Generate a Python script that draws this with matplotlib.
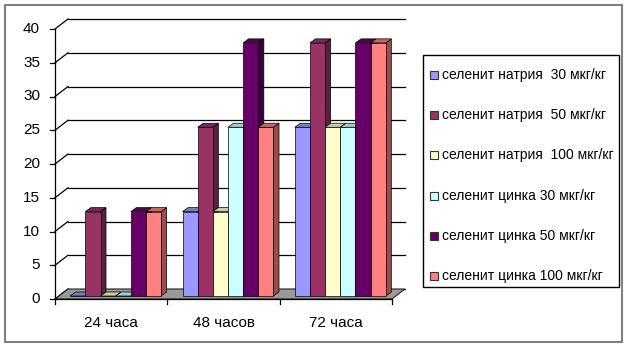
import matplotlib.pyplot as plt
from matplotlib.patches import Polygon, Rectangle
from matplotlib.colors import to_rgb

plt.rcParams['font.family'] = ['Liberation Sans', 'DejaVu Sans']

categories = ["24 часа", "48 часов", "72 часа"]
series = [
    "селенит натрия  30 мкг/кг",
    "селенит натрия  50 мкг/кг",
    "селенит натрия  100 мкг/кг",
    "селенит цинка 30 мкг/кг",
    "селенит цинка 50 мкг/кг",
    "селенит цинка 100 мкг/кг",
]
values = [
    [0, 12.5, 25],      # натрий 30
    [12.5, 25, 37.5],   # натрий 50
    [0, 12.5, 25],      # натрий 100
    [0, 25, 25],        # цинк 30
    [12.5, 37.5, 37.5], # цинк 50
    [12.5, 25, 37.5],   # цинк 100
]
colors = ["#9999FF", "#993366", "#FFFFCC", "#CCFFFF", "#660066", "#FF8080"]
y_ticks = [0, 5, 10, 15, 20, 25, 30, 35, 40]

W, H = 628, 348
fig = plt.figure(figsize=(W / 100, H / 100), dpi=100)

# front plane of the plot in pixels
x0_px, x1_px, y0_px, y1_px = 55, 392, 299, 29
ax = fig.add_axes([x0_px / W, (H - y0_px) / H, (x1_px - x0_px) / W, (y0_px - y1_px) / H])
ax.set_xlim(0, 3)
ax.set_ylim(0, 40)
ax.axis("off")

ux = 3 / (x1_px - x0_px)   # data units per pixel
uy = 40 / (y0_px - y1_px)


def shade(c, f):
    r, g, b = to_rgb(c)
    return (r * f, g * f, b * f)


# wall depth, bar offset and bar depth (pixels)
wdx, wdy = 13 * ux, 10 * uy
odx, ody = 4.5 * ux, 3 * uy
bdx, bdy = 5.5 * ux, 4 * uy

# floor
ax.add_patch(Polygon([(0, 0), (3, 0), (3 + wdx, wdy), (wdx, wdy)], closed=True,
                     facecolor="#999999", edgecolor="black", lw=0.6, zorder=1, clip_on=False))

# gridlines on the back and left walls
for v in y_ticks:
    ax.plot([wdx, 3 + wdx], [v + wdy, v + wdy], color="black", lw=0.9, zorder=0.5, clip_on=False)
    ax.plot([0, wdx], [v, v + wdy], color="black", lw=0.9, zorder=0.5, clip_on=False)
    ax.plot([-5 * ux, 0], [v, v], color="black", lw=0.9, clip_on=False)
    ax.text(-15 * ux, v, str(v), ha="right", va="center", fontsize=11, clip_on=False)

# axes lines
ax.plot([0, 0], [0, 40], color="black", lw=0.9, zorder=0.6, clip_on=False)
ax.plot([0, 3], [0, 0], color="black", lw=0.9, zorder=1.5, clip_on=False)
for i in range(4):
    ax.plot([i, i], [0, -5 * uy], color="black", lw=0.9, clip_on=False)
for i, name in enumerate(categories):
    ax.text(i + 0.5, -24 * uy, name, ha="center", va="center", fontsize=11, clip_on=False)

# 3d-looking bars
bw = 0.135
gap = (1 - bw * len(series)) / 2
z = 2
for i in range(len(categories)):
    for j, (vals, c) in enumerate(zip(values, colors)):
        v = vals[i]
        xl = i + gap + j * bw + odx
        xr = xl + bw
        yb = ody
        yt = v + ody
        ax.add_patch(Polygon([(xr, yb), (xr + bdx, yb + bdy), (xr + bdx, yt + bdy), (xr, yt)],
                             closed=True, facecolor=shade(c, 0.6), edgecolor="black", lw=0.5,
                             zorder=z, clip_on=False))
        ax.add_patch(Polygon([(xl, yt), (xr, yt), (xr + bdx, yt + bdy), (xl + bdx, yt + bdy)],
                             closed=True, facecolor=shade(c, 0.8), edgecolor="black", lw=0.5,
                             zorder=z, clip_on=False))
        ax.add_patch(Rectangle((xl, yb), bw, v, facecolor=c, edgecolor="black", lw=0.5,
                               zorder=z + 0.1, clip_on=False))
        z += 1

# legend box with evenly spaced entries
fig.add_artist(Rectangle((423 / W, 1 - 287 / H), 196 / W, 232 / H, transform=fig.transFigure,
                         facecolor="white", edgecolor="black", lw=1.0))
for k, (name, c) in enumerate(zip(series, colors)):
    yc = 1 - (75 + 40.2 * k) / H
    fig.add_artist(Rectangle((430 / W, yc - 4 / H), 8 / W, 8 / H, transform=fig.transFigure,
                             facecolor=c, edgecolor="#333333", lw=0.8))
    fig.text(442 / W, yc, name, ha="left", va="center", fontsize=10)

# outer chart border
fig.add_artist(Rectangle((5 / W, 6 / H), 617 / W, 337 / H, transform=fig.transFigure,
                         fill=False, edgecolor="#808080", lw=1.5))

fig.savefig("out.png", dpi=100)
